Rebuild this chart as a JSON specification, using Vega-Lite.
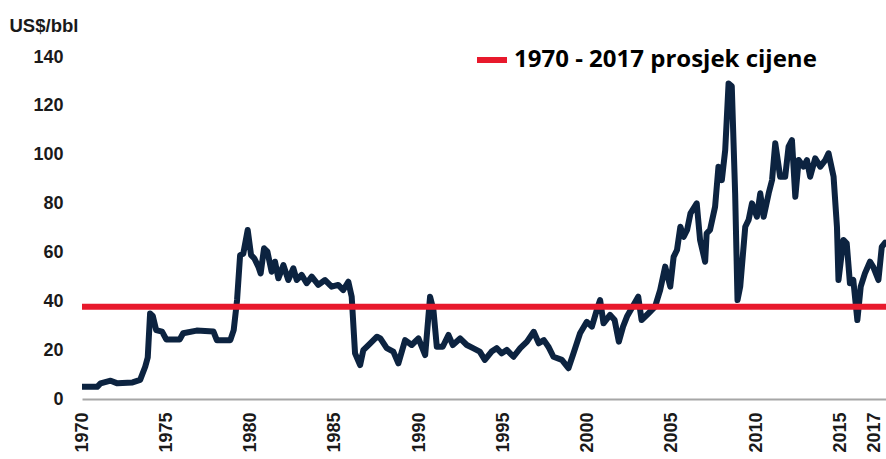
{
  "$schema": "https://vega.github.io/schema/vega-lite/v6.json",
  "width": 804,
  "height": 342,
  "autosize": {"type": "none"},
  "padding": {"left": 82, "top": 57, "right": 0, "bottom": 60},
  "background": "white",
  "config": {"view": {"stroke": null}, "font": "Liberation Sans"},
  "data": {"values": [
    {"year": 1970.0, "price": 5.0}, {"year": 1970.9, "price": 5.0}, {"year": 1971.1, "price": 6.4},
    {"year": 1971.7, "price": 7.5}, {"year": 1972.1, "price": 6.4}, {"year": 1973.0, "price": 6.8},
    {"year": 1973.45, "price": 7.8}, {"year": 1973.75, "price": 13.2}, {"year": 1973.9, "price": 17},
    {"year": 1974.04, "price": 35}, {"year": 1974.2, "price": 34}, {"year": 1974.4, "price": 28.2},
    {"year": 1974.75, "price": 27.6}, {"year": 1975.0, "price": 24.4}, {"year": 1975.8, "price": 24.4},
    {"year": 1976.0, "price": 26.9}, {"year": 1976.8, "price": 28.0}, {"year": 1977.8, "price": 27.6},
    {"year": 1978.0, "price": 24.1}, {"year": 1978.8, "price": 24.1}, {"year": 1979.0, "price": 28.2},
    {"year": 1979.2, "price": 40.5}, {"year": 1979.38, "price": 58.9}, {"year": 1979.57, "price": 59.5},
    {"year": 1979.83, "price": 69.2}, {"year": 1980.03, "price": 58.9}, {"year": 1980.22, "price": 57.6},
    {"year": 1980.46, "price": 54.2}, {"year": 1980.6, "price": 51.4}, {"year": 1980.8, "price": 61.7},
    {"year": 1981.0, "price": 60.3}, {"year": 1981.25, "price": 52.1}, {"year": 1981.45, "price": 56.2},
    {"year": 1981.65, "price": 49.4}, {"year": 1981.95, "price": 54.8}, {"year": 1982.24, "price": 48.7},
    {"year": 1982.54, "price": 53.5}, {"year": 1982.74, "price": 48.7}, {"year": 1983.03, "price": 50.8},
    {"year": 1983.33, "price": 47.4}, {"year": 1983.63, "price": 50.1}, {"year": 1984.02, "price": 46.7},
    {"year": 1984.42, "price": 48.7}, {"year": 1984.81, "price": 46.0}, {"year": 1985.2, "price": 46.7},
    {"year": 1985.5, "price": 44.6}, {"year": 1985.8, "price": 48.0}, {"year": 1986.0, "price": 41.9},
    {"year": 1986.2, "price": 18.7}, {"year": 1986.5, "price": 13.9}, {"year": 1986.69, "price": 20.0},
    {"year": 1987.1, "price": 22.8}, {"year": 1987.5, "price": 25.5}, {"year": 1987.7, "price": 24.8},
    {"year": 1988.08, "price": 20.8}, {"year": 1988.47, "price": 19.4}, {"year": 1988.77, "price": 14.6},
    {"year": 1989.17, "price": 24.1}, {"year": 1989.56, "price": 22.1}, {"year": 1989.96, "price": 24.8},
    {"year": 1990.36, "price": 18.0}, {"year": 1990.65, "price": 41.9}, {"year": 1990.85, "price": 36.4},
    {"year": 1991.05, "price": 21.4}, {"year": 1991.4, "price": 21.4}, {"year": 1991.74, "price": 26.2},
    {"year": 1992.0, "price": 22.1}, {"year": 1992.43, "price": 24.8}, {"year": 1992.83, "price": 22.1},
    {"year": 1993.2, "price": 20.8}, {"year": 1993.6, "price": 19.4}, {"year": 1993.9, "price": 16.0},
    {"year": 1994.3, "price": 19.4}, {"year": 1994.6, "price": 20.8}, {"year": 1994.9, "price": 18.7},
    {"year": 1995.2, "price": 20.1}, {"year": 1995.6, "price": 17.3}, {"year": 1996.0, "price": 20.8},
    {"year": 1996.4, "price": 23.5}, {"year": 1996.8, "price": 27.5}, {"year": 1997.1, "price": 22.8},
    {"year": 1997.4, "price": 24.1}, {"year": 1997.67, "price": 21.4}, {"year": 1997.97, "price": 17.3},
    {"year": 1998.47, "price": 16.0}, {"year": 1998.86, "price": 12.6}, {"year": 1999.16, "price": 18.7},
    {"year": 1999.55, "price": 26.9}, {"year": 1999.95, "price": 31.6}, {"year": 2000.25, "price": 29.6},
    {"year": 2000.54, "price": 36.4}, {"year": 2000.74, "price": 40.5}, {"year": 2000.94, "price": 31.0},
    {"year": 2001.33, "price": 34.4}, {"year": 2001.6, "price": 32.3}, {"year": 2001.85, "price": 23.5},
    {"year": 2002.1, "price": 29.6}, {"year": 2002.35, "price": 34.0}, {"year": 2003.0, "price": 41.9},
    {"year": 2003.2, "price": 32.3}, {"year": 2003.6, "price": 35.0}, {"year": 2004.0, "price": 37.8},
    {"year": 2004.3, "price": 44.6}, {"year": 2004.6, "price": 54.2}, {"year": 2004.9, "price": 46.0},
    {"year": 2005.1, "price": 58.2}, {"year": 2005.3, "price": 61.0}, {"year": 2005.5, "price": 70.5},
    {"year": 2005.7, "price": 66.4}, {"year": 2005.9, "price": 69.2}, {"year": 2006.1, "price": 76.0},
    {"year": 2006.47, "price": 80.1}, {"year": 2006.67, "price": 65.1}, {"year": 2006.97, "price": 56.2},
    {"year": 2007.06, "price": 67.8}, {"year": 2007.26, "price": 69.2}, {"year": 2007.56, "price": 78.7},
    {"year": 2007.76, "price": 95.1}, {"year": 2007.96, "price": 89.6}, {"year": 2008.16, "price": 101.9},
    {"year": 2008.36, "price": 129.2}, {"year": 2008.55, "price": 128.0}, {"year": 2008.75, "price": 84.2},
    {"year": 2008.89, "price": 40.5}, {"year": 2009.05, "price": 46.0}, {"year": 2009.35, "price": 70.5},
    {"year": 2009.55, "price": 73.3}, {"year": 2009.75, "price": 80.1}, {"year": 2010.04, "price": 74.6},
    {"year": 2010.24, "price": 84.2}, {"year": 2010.44, "price": 74.6}, {"year": 2010.74, "price": 84.2},
    {"year": 2010.94, "price": 89.6}, {"year": 2011.13, "price": 104.7}, {"year": 2011.42, "price": 91.0},
    {"year": 2011.72, "price": 91.0}, {"year": 2011.92, "price": 103.3}, {"year": 2012.12, "price": 106.0},
    {"year": 2012.32, "price": 82.8}, {"year": 2012.52, "price": 97.8}, {"year": 2012.81, "price": 95.1},
    {"year": 2013.01, "price": 97.8}, {"year": 2013.2, "price": 91.0}, {"year": 2013.5, "price": 98.5},
    {"year": 2013.8, "price": 95.1}, {"year": 2014.1, "price": 97.8}, {"year": 2014.29, "price": 100.6},
    {"year": 2014.59, "price": 91.0}, {"year": 2014.79, "price": 70.5}, {"year": 2014.88, "price": 48.7},
    {"year": 2015.17, "price": 65.1}, {"year": 2015.37, "price": 63.7}, {"year": 2015.56, "price": 47.4},
    {"year": 2015.76, "price": 48.7}, {"year": 2016.0, "price": 32.3}, {"year": 2016.2, "price": 46.0},
    {"year": 2016.45, "price": 51.4}, {"year": 2016.75, "price": 56.2}, {"year": 2016.95, "price": 54.0},
    {"year": 2017.25, "price": 48.7}, {"year": 2017.45, "price": 62.3}, {"year": 2017.65, "price": 64.0}
  ]},
  "layer": [
    {
      "mark": {"type": "line", "color": "#0c2340", "strokeWidth": 6, "strokeJoin": "round", "strokeCap": "round", "clip": true},
      "encoding": {
        "x": {
          "field": "year", "type": "quantitative",
          "scale": {"domain": [1970, 2017.7], "nice": false, "zero": false},
          "axis": {
            "title": null,
            "values": [1970, 1975, 1980, 1985, 1990, 1995, 2000, 2005, 2010, 2015, 2017],
            "format": "d",
            "labelAngle": 270,
            "labelAlign": "right",
            "labelBaseline": "middle",
            "labelFont": "Liberation Sans",
            "labelFontWeight": "bold",
            "labelFontSize": 18,
            "labelColor": "#1a1a1a",
            "labelPadding": 13,
            "labelOverlap": false,
            "labelFlush": false,
            "ticks": false,
            "grid": false,
            "domainColor": "#a6a6a6",
            "domainWidth": 2
          }
        },
        "y": {
          "field": "price", "type": "quantitative",
          "scale": {"domain": [0, 140], "nice": false},
          "axis": {
            "title": "US$/bbl",
            "titleAngle": 0,
            "titleAlign": "left",
            "titleBaseline": "alphabetic",
            "titleX": -73,
            "titleY": -26,
            "titleFont": "Liberation Sans",
            "titleFontWeight": "bold",
            "titleFontSize": 18.5,
            "titleColor": "#1a1a1a",
            "values": [0, 20, 40, 60, 80, 100, 120, 140],
            "labelFont": "Liberation Sans",
            "labelFontWeight": "bold",
            "labelFontSize": 18,
            "labelColor": "#1a1a1a",
            "labelPadding": 19,
            "ticks": false,
            "domain": false,
            "grid": false
          }
        }
      }
    },
    {
      "data": {"values": [{"avg": 37.8, "label": "1970 - 2017 prosjek cijene"}]},
      "mark": {"type": "rule", "strokeWidth": 6},
      "encoding": {
        "y": {"field": "avg", "type": "quantitative"},
        "color": {
          "field": "label", "type": "nominal",
          "scale": {"range": ["#e8192c"]},
          "legend": {
            "title": null,
            "orient": "none",
            "legendX": 392,
            "legendY": -15,
            "symbolType": "stroke",
            "symbolSize": 900,
            "symbolStrokeWidth": 6,
            "symbolStrokeColor": "#e8192c",
            "labelFont": "Open Sans",
            "labelFontWeight": "bold",
            "labelFontSize": 24,
            "labelColor": "#000000",
            "labelOffset": 4,
            "labelLimit": 500
          }
        }
      }
    }
  ]
}
